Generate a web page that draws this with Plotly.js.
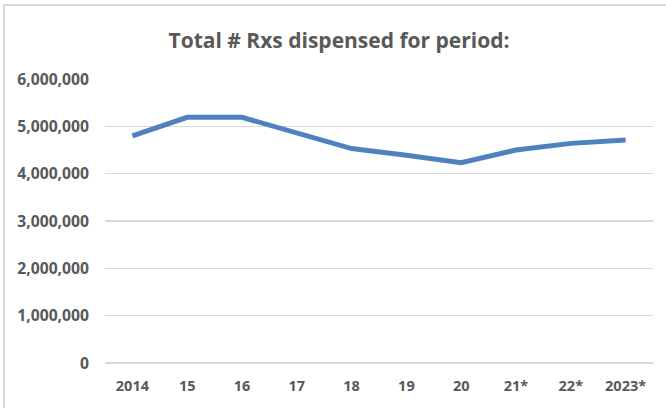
<!DOCTYPE html>
<html>
<head>
<meta charset="utf-8">
<script src="https://cdn.plot.ly/plotly-3.0.1.min.js"></script>
<style>
html, body { margin: 0; padding: 0; width: 666px; height: 408px; overflow: hidden; background: #ffffff; }
#chart { position: absolute; left: 0; top: 0; width: 666px; height: 408px; }
#frame { position: absolute; left: 3px; top: 4px; width: 720px; height: 460px; border-left: 2px solid #d9d9d9; border-top: 2px solid #d9d9d9; pointer-events: none; }
</style>
</head>
<body>
<div id="chart"></div>
<div id="frame"></div>
<script>
const periods = ["2014", "15", "16", "17", "18", "19", "20", "21*", "22*", "2023*"];
const totalRxs = [4800000, 5190000, 5190000, 4860000, 4530000, 4390000, 4230000, 4500000, 4640000, 4710000];
const chartTitle = "Total # Rxs dispensed for period:";

const textColor = "#595959";
const fontFamily = "'Open Sans', 'Noto Sans', sans-serif";

const trace = {
  x: periods,
  y: totalRxs,
  type: "scatter",
  mode: "lines",
  line: { color: "#4f81bd", width: 5 },
  hoverinfo: "x+y"
};

const layout = {
  width: 666,
  height: 408,
  margin: { l: 105, r: 13, t: 79, b: 45 },
  paper_bgcolor: "#ffffff",
  plot_bgcolor: "#ffffff",
  showlegend: false,
  title: {
    text: chartTitle,
    x: 0.509,
    xanchor: "center",
    xref: "container",
    y: 0.9,
    yanchor: "middle",
    yref: "container",
    font: { family: fontFamily, size: 21, color: textColor, weight: 700 }
  },
  xaxis: {
    type: "category",
    range: [-0.5, 9.5],
    showgrid: false,
    zeroline: false,
    showline: false,
    ticks: "",
    ticklabelstandoff: 12,
    tickfont: { family: fontFamily, size: 14.5, color: textColor, weight: 700 }
  },
  yaxis: {
    range: [0, 6000000],
    dtick: 1000000,
    tick0: 0,
    tickformat: ",d",
    showgrid: true,
    gridcolor: "#d9d9d9",
    gridwidth: 1.5,
    zeroline: true,
    zerolinecolor: "#d9d9d9",
    zerolinewidth: 1.5,
    showline: false,
    ticks: "",
    ticklabelstandoff: 15,
    tickfont: { family: fontFamily, size: 15.7, color: textColor, weight: 700 }
  }
};

Plotly.newPlot("chart", [trace], layout, { displayModeBar: false, staticPlot: true });
</script>
</body>
</html>
